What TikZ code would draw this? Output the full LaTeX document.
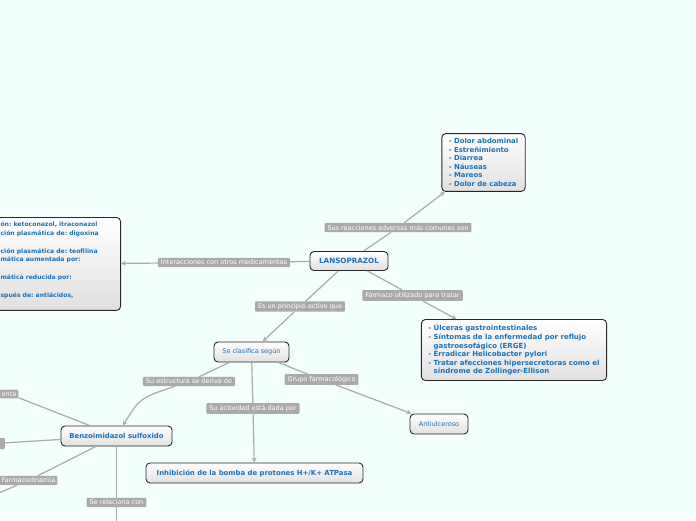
\documentclass[tikz,border=0pt]{standalone}
\usepackage{fontspec}
\setmainfont{DejaVu Sans}
\definecolor{mmbg}{RGB}{242,255,252}
\definecolor{mmblue}{RGB}{26,114,184}
\definecolor{mmgray}{RGB}{170,170,170}
\definecolor{mmedge}{RGB}{40,40,40}
\usetikzlibrary{arrows.meta,positioning}

\begin{document}
\begin{tikzpicture}[x=1pt, y=-1pt,
    topic/.style={draw=mmedge, line width=0.9pt, rounded corners=4pt,
                  top color=white, bottom color=black!12,
                  text=mmblue, font=\fontsize{6.9}{8.5}\selectfont\bfseries\frenchspacing,
                  inner xsep=7pt, inner ysep=5pt, align=left},
    leaf/.style={topic, font=\fontsize{6.5}{8}\selectfont, minimum height=20pt},
    rellabel/.style={fill=mmgray, text=white, rounded corners=1pt,
                     font=\fontsize{6.5}{7}\selectfont,
                     inner xsep=3pt, inner ysep=2pt},
    link/.style={mmgray, line width=1.2pt},
    arr/.style={link, ->, >=stealth}
  ]
    \clip (0,0) rectangle (696,520);
    \fill[mmbg] (0,0) rectangle (696,520);

    % Central topic
    \node[topic, font=\fontsize{7.2}{9}\selectfont\bfseries,
          minimum width=78pt, minimum height=19pt] (lanso) at (349,261)
      {LANSOPRAZOL};

    % Adverse reactions
    \node[topic] (advers) at (483.5,162.5)
      {- Dolor abdominal\\- Estreñimiento\\- Diarrea\\- Náuseas\\- Mareos\\- Dolor de cabeza};

    % Interactions (runs off the left edge)
    \node[topic, anchor=north east, text width=116pt, inner xsep=4pt, inner ysep=4pt,
          font=\fontsize{6.1}{8.9}\selectfont\bfseries\frenchspacing] (interac) at (121,217)
      {ón: ketoconazol, itraconazol\\ción plasmática de: digoxina\\~\\ción plasmática de: teofilina\\mática aumentada por:\\~\\mática reducida por:\\~\\spués de: antiácidos,\\~};

    % Indications
    \node[topic, font=\fontsize{7}{8.6}\selectfont\bfseries\frenchspacing] (tratar) at (514,350)
      {- Úlceras gastrointestinales\\- Síntomas de la enfermedad por reflujo\\\phantom{- }gastroesofágico (ERGE)\\- Erradicar Helicobacter pylori\\- Tratar afecciones hipersecretoras como el\\\phantom{- }síndrome de Zollinger-Ellison};

    % Classification
    \node[leaf, minimum width=75pt] (clasif) at (251.5,352) {Se clasifica según};
    \node[leaf, minimum width=58pt] (antiulc) at (439,424) {Antiulceroso};
    \node[topic, minimum width=111pt, minimum height=20pt] (benzo) at (116.5,436)
      {Benzoimidazol sulfoxido};
    \node[topic, minimum width=217pt, minimum height=20pt] (inhib) at (254.5,473)
      {Inhibición de la bomba de protones H+/K+ ATPasa};

    % Relation labels
    \node[rellabel] (lsus) at (398,227.5) {Sus reacciones adversas más comunes son};
    \node[rellabel] (linter) at (224,262.5) {Interacciones con otros medicamentos};
    \node[rellabel] (lprin) at (300,306.5) {Es un principio activo que};
    \node[rellabel] (lfarm) at (412.5,295.5) {Fármaco utilizado para tratar};
    \node[rellabel] (lestr) at (189,381.5) {Su estructura se deriva de};
    \node[rellabel] (lact) at (253,408.5) {Su actividad está dada por};
    \node[rellabel] (lgrupo) at (321.5,379.5) {Grupo farmacológico};
    \node[rellabel, anchor=east, inner xsep=2pt] (lenta) at (18.5,394) {enta};
    \node[rellabel, anchor=east, minimum width=20pt, minimum height=11pt] (lleft) at (5,443.5) {};
    \node[rellabel, anchor=east, inner xsep=2pt] (lfdin) at (57.5,480.5) {Farmacodinamia};
    \node[rellabel] (lrel) at (116.5,502.5) {Se relaciona con};

    % Loose ends past the border
    \coordinate (offfd) at (-30,505);
    \coordinate (offrel) at (116.5,540);

    % Connectors from LANSOPRAZOL
    \draw[link] (lanso) -- (lsus);
    \draw[arr] (lsus) -- (advers);
    \draw[link] (lanso) -- (linter);
    \draw[arr] (linter) -- (interac);
    \draw[link] (lanso) -- (lprin);
    \draw[arr] (lprin) -- (clasif);
    \draw[link] (lanso) -- (lfarm);
    \draw[arr] (lfarm) -- (tratar);

    % Connectors from Se clasifica
    \draw[link] (clasif) -- (lestr);
    \draw[arr] (lestr) .. controls (140,398) .. (benzo);
    \draw[link] (clasif) -- (lact);
    \draw[arr] (lact) -- (inhib);
    \draw[link] (clasif) -- (lgrupo);
    \draw[arr] (lgrupo) -- (antiulc);

    % Connectors from Benzoimidazol
    \draw[link] (benzo) -- (lenta);
    \draw[link] (benzo) -- (lleft);
    \draw[link] (benzo) -- (lfdin);
    \draw[link] (lfdin) -- (offfd);
    \draw[link] (benzo) -- (lrel);
    \draw[link] (lrel) -- (offrel);
\end{tikzpicture}
\end{document}
